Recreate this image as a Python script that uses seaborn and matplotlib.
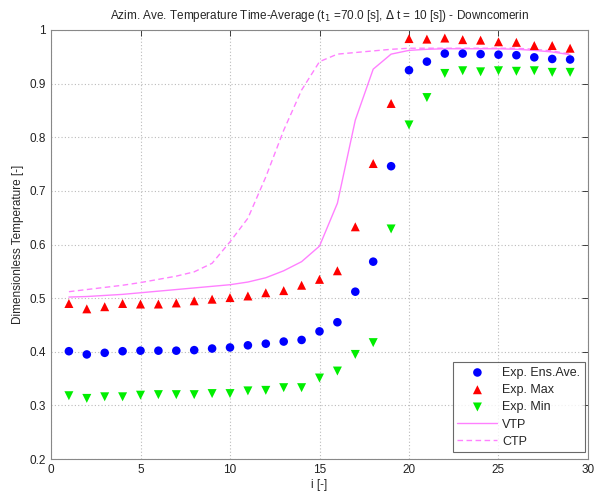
import numpy as np
import pandas as pd
import matplotlib
matplotlib.use("Agg")
import matplotlib.pyplot as plt
import seaborn as sns

# ---- data ----
idx = list(range(1, 30))
ens_ave = [0.401, 0.395, 0.398, 0.401, 0.402, 0.402, 0.402, 0.403, 0.406, 0.408,
           0.412, 0.415, 0.419, 0.422, 0.438, 0.455, 0.512, 0.568, 0.746, 0.925,
           0.941, 0.956, 0.956, 0.955, 0.954, 0.953, 0.949, 0.946, 0.945]
exp_max = [0.490, 0.480, 0.484, 0.490, 0.489, 0.489, 0.491, 0.495, 0.498, 0.501,
           0.504, 0.510, 0.514, 0.524, 0.535, 0.551, 0.633, 0.751, 0.863, 0.984,
           0.983, 0.985, 0.982, 0.981, 0.978, 0.977, 0.971, 0.971, 0.966]
exp_min = [0.318, 0.313, 0.316, 0.316, 0.319, 0.320, 0.320, 0.320, 0.322, 0.322,
           0.327, 0.328, 0.333, 0.333, 0.351, 0.364, 0.395, 0.417, 0.629, 0.823,
           0.874, 0.919, 0.924, 0.922, 0.924, 0.923, 0.924, 0.921, 0.921]
vtp = [0.502, 0.503, 0.505, 0.507, 0.510, 0.513, 0.516, 0.519, 0.522, 0.525,
       0.530, 0.538, 0.551, 0.568, 0.597, 0.677, 0.832, 0.927, 0.955, 0.962,
       0.964, 0.965, 0.965, 0.965, 0.965, 0.964, 0.962, 0.959, 0.954]
ctp = [0.512, 0.516, 0.520, 0.524, 0.529, 0.535, 0.541, 0.549, 0.565, 0.605,
       0.649, 0.726, 0.813, 0.888, 0.941, 0.955, 0.958, 0.961, 0.964, 0.966,
       0.966, 0.966, 0.966, 0.966, 0.966, 0.966, 0.964, 0.961, 0.955]
x_ticks = [0, 5, 10, 15, 20, 25, 30]
y_ticks = [0.2, 0.3, 0.4, 0.5, 0.6, 0.7, 0.8, 0.9, 1.0]
y_ticklabels = ["0.2", "0.3", "0.4", "0.5", "0.6", "0.7", "0.8", "0.9", "1"]

df = pd.DataFrame({"i": idx, "ave": ens_ave, "max": exp_max, "min": exp_min,
                   "vtp": vtp, "ctp": ctp})

sns.set_style("white")
plt.rcParams["font.family"] = ["Liberation Sans", "DejaVu Sans"]

fig = plt.figure(figsize=(5.96, 4.97), dpi=100)
ax = fig.add_axes([51/596, 1-459/497, (588-51)/596, (459-30)/497])

mag = "#ff80ff"
sns.scatterplot(data=df, x="i", y="ave", ax=ax, color="#0000ff", marker="o",
                s=38, edgecolor="none", label="Exp. Ens.Ave.", zorder=3)
sns.scatterplot(data=df, x="i", y="max", ax=ax, color="#ff0000", marker="^",
                s=42, edgecolor="none", label="Exp. Max", zorder=3)
sns.scatterplot(data=df, x="i", y="min", ax=ax, color="#00ee00", marker="v",
                s=42, edgecolor="none", label="Exp. Min", zorder=3)
sns.lineplot(data=df, x="i", y="vtp", ax=ax, color=mag, lw=1.0, label="VTP")
sns.lineplot(data=df, x="i", y="ctp", ax=ax, color=mag, lw=1.0, ls=(0, (4, 2.5)), label="CTP")

ax.set_xlim(0, 30)
ax.set_ylim(0.2, 1.0)
ax.set_xticks(x_ticks)
ax.set_yticks(y_ticks)
ax.set_yticklabels(y_ticklabels)
ax.grid(True, color="#bbbbbb", ls=(0, (1, 2)), lw=0.8)
ax.tick_params(direction="in", length=4, top=True, right=True, labelsize=8.5,
               colors="#222222", width=0.6)
for s in ax.spines.values():
    s.set_color("#888888")
    s.set_linewidth(0.8)

ax.set_xlabel("i [-]", fontsize=8.5, labelpad=2)
ax.set_ylabel("Dimensionless Temperature [-]", fontsize=8.5, labelpad=4)
ax.set_title(r"Azim. Ave. Temperature Time-Average (t$_1$ =70.0 [s], $\Delta$ t = 10 [s]) - Downcomerin",
             fontsize=8.5, pad=8)

leg = ax.legend(loc="lower right", fontsize=9, frameon=True, fancybox=False,
                borderpad=0.35, labelspacing=0.42, handlelength=3.2,
                handletextpad=0.4, borderaxespad=0, bbox_to_anchor=(0.994, 0.016))
leg.get_frame().set_edgecolor("#444444")
leg.get_frame().set_linewidth(0.8)

fig.savefig("out.png", dpi=100)
